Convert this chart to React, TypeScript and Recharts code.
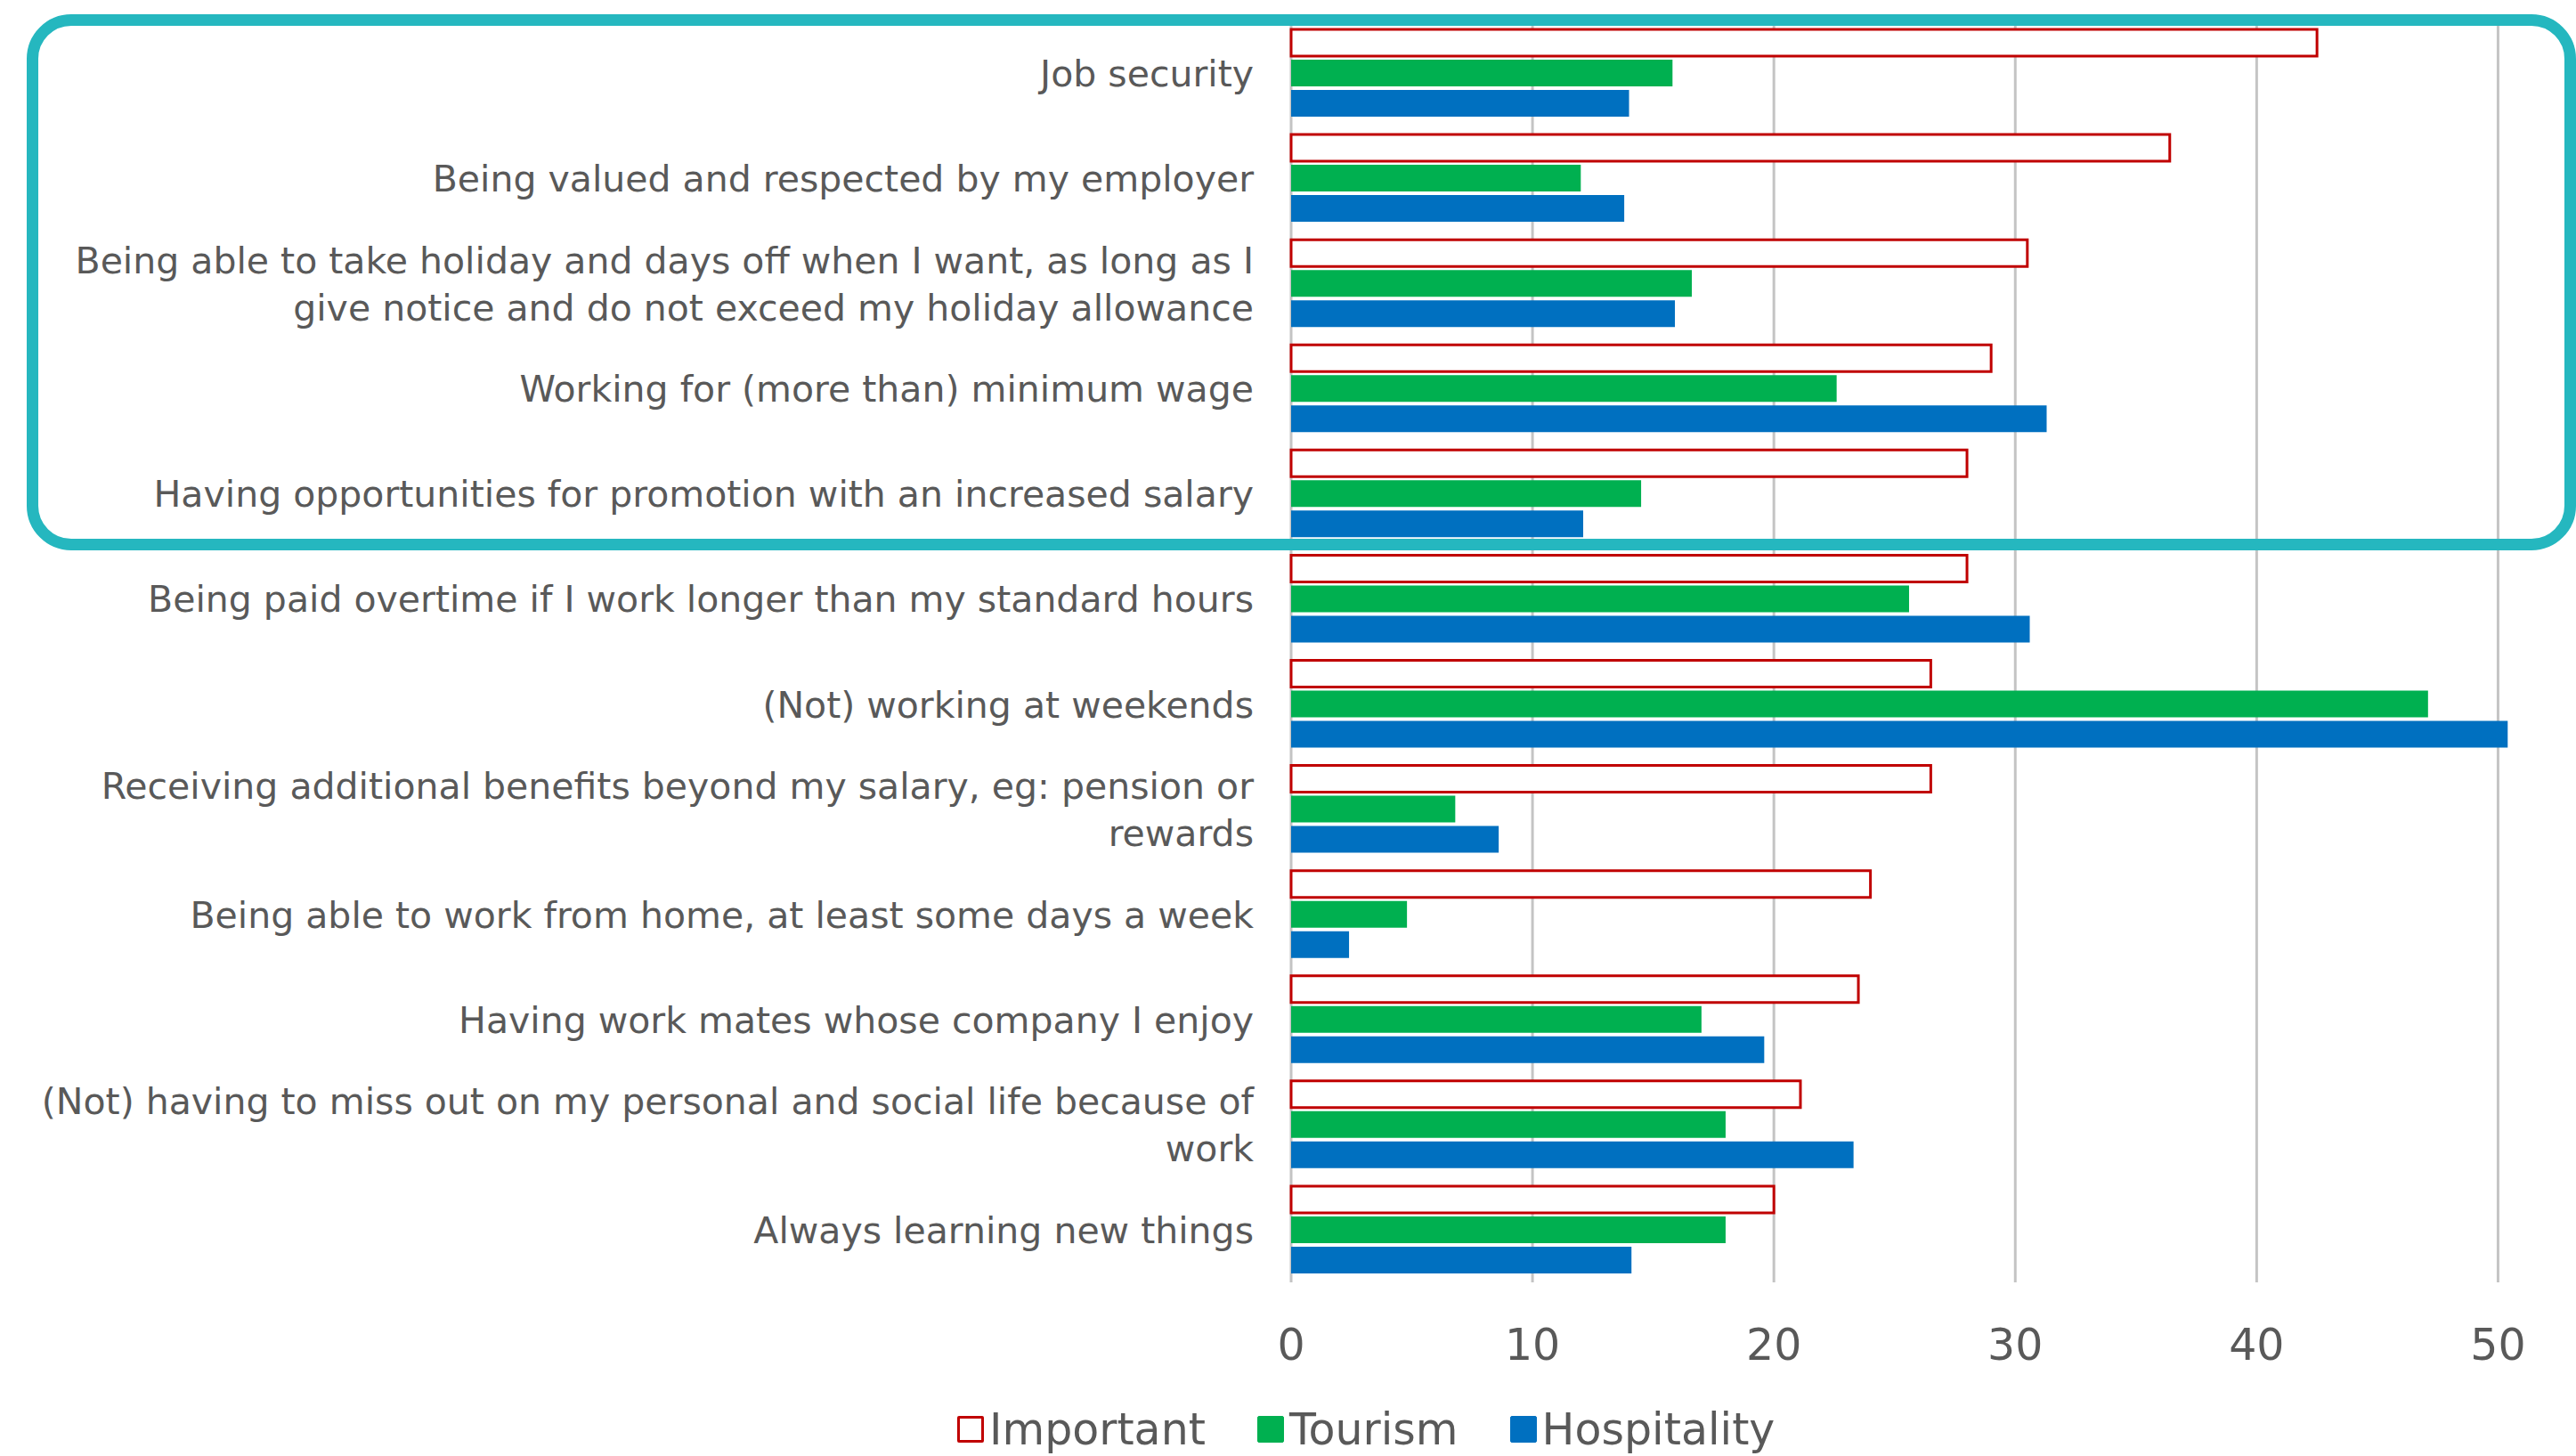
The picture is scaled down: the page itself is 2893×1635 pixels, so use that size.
import React from 'react';
import { BarChart, Bar, XAxis, YAxis, CartesianGrid, Legend } from 'recharts';

const categories = [
  'Job security',
  'Being valued and respected by my employer',
  'Being able to take holiday and days off when I want, as long as I\ngive notice and do not exceed my holiday allowance',
  'Working for (more than) minimum wage',
  'Having opportunities for promotion with an increased salary',
  'Being paid overtime if I work longer than my standard hours',
  '(Not) working at weekends',
  'Receiving additional benefits beyond my salary, eg: pension or\nrewards',
  'Being able to work from home, at least some days a week',
  'Having work mates whose company I enjoy',
  '(Not) having to miss out on my personal and social life because of\nwork',
  'Always learning new things',
];

const important = [42.5, 36.4, 30.5, 29.0, 28.0, 28.0, 26.5, 26.5, 24.0, 23.5, 21.1, 20.0];
const tourism = [15.8, 12.0, 16.6, 22.6, 14.5, 25.6, 47.1, 6.8, 4.8, 17.0, 18.0, 18.0];
const hospitality = [14.0, 13.8, 15.9, 31.3, 12.1, 30.6, 50.4, 8.6, 2.4, 19.6, 23.3, 14.1];

const xTicks = [0, 10, 20, 30, 40, 50];
const xMax = 50.5;

const FONT = '"DejaVu Sans", sans-serif';
const TEXT = '#595959';
const RED = '#C00000';
const GREEN = '#00B050';
const BLUE = '#0070C0';
const TEAL = '#25B7BF';

const data = categories.map((name, i) => ({
  name,
  important: important[i],
  tourism: tourism[i],
  hospitality: hospitality[i],
}));

const legendItems = [
  { label: 'Important', fill: '#ffffff', stroke: RED },
  { label: 'Tourism', fill: GREEN, stroke: GREEN },
  { label: 'Hospitality', fill: BLUE, stroke: BLUE },
];

// category labels may hold a manual line break
function CategoryTick({ x, y, payload }: any) {
  const lines = String(payload.value).split('\n');
  const lineHeight = 53;
  const first = -((lines.length - 1) * lineHeight) / 2 + 15;
  return (
    <text x={x} y={y} textAnchor="end" fill={TEXT} fontSize={41} fontFamily={FONT}>
      {lines.map((line, i) => (
        <tspan key={i} x={x} dy={i === 0 ? first : lineHeight}>
          {line}
        </tspan>
      ))}
    </text>
  );
}

function LegendContent() {
  return (
    <div style={{ display: 'flex', alignItems: 'center', height: 80, fontFamily: FONT, fontSize: 49, color: TEXT }}>
      {legendItems.map((item) => {
        const hollow = item.fill === '#ffffff';
        return (
          <div key={item.label} style={{ display: 'flex', alignItems: 'center', marginRight: 58 }}>
            <span
              style={{
                display: 'inline-block',
                width: hollow ? 24 : 28,
                height: hollow ? 24 : 28,
                background: item.fill,
                border: hollow ? `3px solid ${item.stroke}` : `1px solid ${item.stroke}`,
                borderRadius: 2,
                marginRight: 6,
              }}
            />
            <span>{item.label}</span>
          </div>
        );
      })}
    </div>
  );
}

// vertical grid only at the labelled ticks, not at the plot's right edge
const gridX = ({ offset }: any) => xTicks.map((t) => offset.left + (t / xMax) * offset.width);

export default function App() {
  return (
    <div style={{ position: 'absolute', left: 0, top: 0, width: 2893, height: 1635, background: '#ffffff' }}>
      <BarChart
        width={2893}
        height={1635}
        data={data}
        layout="vertical"
        margin={{ top: 23, right: 74, bottom: 0, left: 0 }}
        barCategoryGap={10}
        barGap={4}
      >
        <CartesianGrid horizontal={false} stroke="#C4C4C4" strokeWidth={3} verticalCoordinatesGenerator={gridX} />
        <XAxis
          type="number"
          domain={[0, xMax]}
          ticks={xTicks}
          height={115}
          axisLine={false}
          tickLine={false}
          tickSize={0}
          tickMargin={52}
          tick={{ fill: TEXT, fontSize: 49, fontFamily: FONT }}
        />
        <YAxis
          type="category"
          dataKey="name"
          width={1450}
          axisLine={false}
          tickLine={false}
          tickSize={0}
          tickMargin={42}
          interval={0}
          tick={<CategoryTick />}
        />
        <Legend
          verticalAlign="bottom"
          content={<LegendContent />}
          wrapperStyle={{ left: 1075, top: 1565, width: 1100, height: 80 }}
        />
        <Bar dataKey="important" name="Important" fill="#ffffff" stroke={RED} strokeWidth={3} isAnimationActive={false} />
        <Bar dataKey="tourism" name="Tourism" fill={GREEN} isAnimationActive={false} />
        <Bar dataKey="hospitality" name="Hospitality" fill={BLUE} isAnimationActive={false} />
      </BarChart>
      <div
        style={{
          position: 'absolute',
          left: 30,
          top: 16,
          width: 2863,
          height: 602,
          boxSizing: 'border-box',
          border: `13px solid ${TEAL}`,
          borderRadius: 50,
          pointerEvents: 'none',
        }}
      />
    </div>
  );
}
